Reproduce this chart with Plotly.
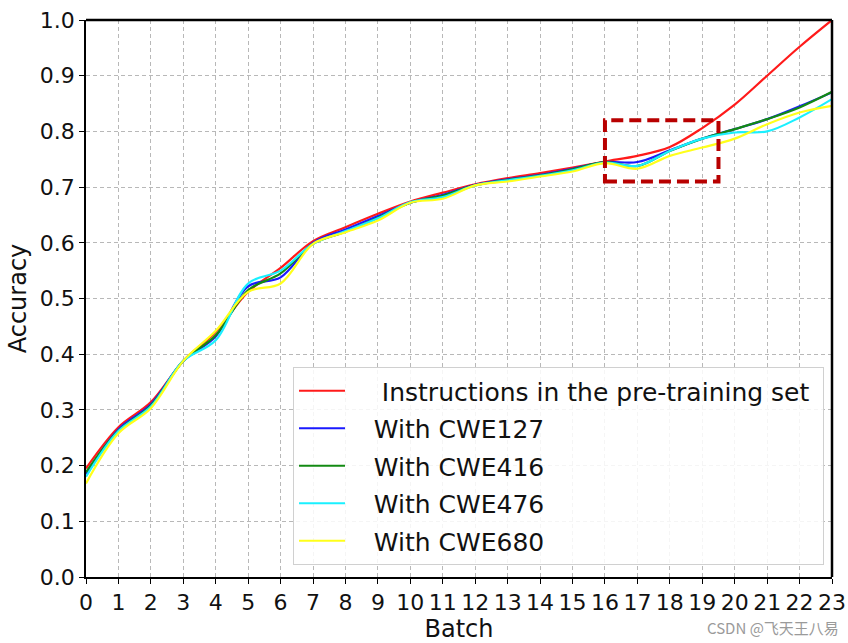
import plotly.graph_objects as go

batch = list(range(24))
red = [0.195, 0.269, 0.314, 0.388, 0.440, 0.512, 0.555, 0.603, 0.628, 0.652, 0.674, 0.690,
       0.705, 0.716, 0.725, 0.735, 0.746, 0.756, 0.772, 0.806, 0.848, 0.900, 0.952, 1.000]
blue = [0.185, 0.265, 0.310, 0.388, 0.432, 0.522, 0.538, 0.600, 0.624, 0.648, 0.672, 0.686,
        0.704, 0.714, 0.722, 0.733, 0.745, 0.745, 0.766, 0.787, 0.804, 0.822, 0.845, 0.870]
green = [0.188, 0.263, 0.308, 0.388, 0.434, 0.515, 0.545, 0.598, 0.620, 0.645, 0.672, 0.685,
         0.703, 0.713, 0.721, 0.732, 0.745, 0.738, 0.765, 0.787, 0.804, 0.822, 0.843, 0.871]
cyan = [0.180, 0.262, 0.306, 0.388, 0.425, 0.527, 0.550, 0.598, 0.621, 0.644, 0.673, 0.682,
        0.703, 0.712, 0.720, 0.730, 0.744, 0.738, 0.765, 0.787, 0.798, 0.800, 0.825, 0.858]
yellow = [0.168, 0.258, 0.303, 0.388, 0.442, 0.512, 0.527, 0.598, 0.619, 0.640, 0.672, 0.679,
          0.703, 0.710, 0.719, 0.728, 0.743, 0.733, 0.756, 0.771, 0.787, 0.813, 0.834, 0.846]

series = [
    (" Instructions in the pre-training set", red, "#ff1a1a"),
    ("With CWE127", blue, "#1a1aff"),
    ("With CWE416", green, "#138a13"),
    ("With CWE476", cyan, "#1af0ff"),
    ("With CWE680", yellow, "#ffff1a"),
]

zoom_box = dict(x0=16, x1=19.5, y0=0.71, y1=0.82)

FONT = "DejaVu Sans"
PAD = "\u00a0\u00a0\u00a0"
fig = go.Figure()
for i, (name, ys, col) in enumerate(series):
    fig.add_trace(go.Scatter(x=batch, y=ys, mode="lines", name=PAD + name + "\u00a0", legendgroup=f"g{i}",
                             line=dict(color=col, width=2.2, shape="spline", smoothing=1.0)))

grid_style = dict(showgrid=True, gridcolor="#b8b8b8", gridwidth=1, griddash="4px,3px",
                  zeroline=False, showline=True, linecolor="black", linewidth=1.5,
                  ticks="outside", ticklen=5, tickcolor="black", automargin=False,
                  tickfont=dict(family=FONT, size=22, color="#111111"))

fig.update_layout(
    width=848, height=643,
    margin=dict(l=86, r=16, t=20, b=66, autoexpand=False),
    paper_bgcolor="white", plot_bgcolor="white",
    font=dict(family=FONT, color="#111111"),
    xaxis=dict(range=[0, 23], tickmode="array", tickvals=batch, ticktext=[str(b) for b in batch],
               title=dict(text="Batch", font=dict(family=FONT, size=24), standoff=4), **grid_style),
    yaxis=dict(range=[0, 1], tickmode="array", tickvals=[i / 10 for i in range(11)],
               tickformat=".1f",
               title=dict(text="Accuracy", font=dict(family=FONT, size=24), standoff=6), **grid_style),
    legend=dict(x=0.2775, y=0.377, xanchor="left", yanchor="top",
                bgcolor="rgba(255,255,255,0.85)", bordercolor="#d0d0d0", borderwidth=1,
                font=dict(family=FONT, size=25, color="#111111"), itemwidth=46,
                tracegroupgap=2),
    showlegend=True,
)

# frame: top and right spines
fig.add_shape(type="line", xref="paper", yref="paper", x0=0, x1=1, y0=1, y1=1,
              line=dict(color="black", width=2.5))
fig.add_shape(type="line", xref="paper", yref="paper", x0=1, x1=1, y0=0, y1=1,
              line=dict(color="black", width=2.5))

# dashed highlight box
fig.add_shape(type="rect", xref="x", yref="y", **zoom_box,
              line=dict(color="#b80000", width=4, dash="12px,6px"), layer="above")

fig.add_annotation(text="CSDN @飞天王八易", xref="paper", yref="paper", x=1.012, y=-0.09,
                   xanchor="right", yanchor="middle", showarrow=False,
                   font=dict(family="Noto Sans CJK SC", size=15, color="#9a9a9a"))

fig.write_html("out.html")
